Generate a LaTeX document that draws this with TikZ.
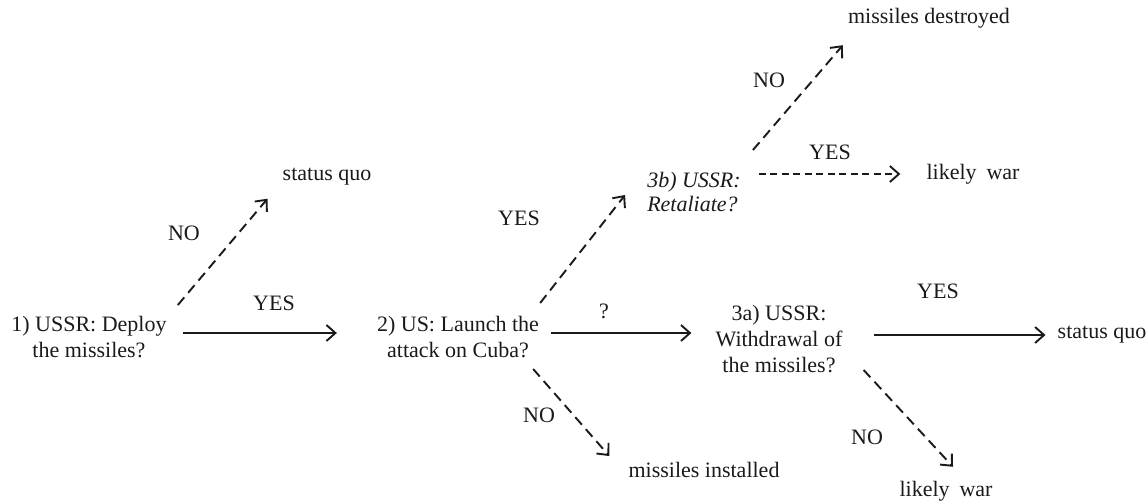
\documentclass[tikz,border=0pt]{standalone}
\usepackage{fontspec}
\setmainfont{Liberation Serif}
\usetikzlibrary{arrows.meta,calc}
\definecolor{ink}{HTML}{1A1A1A}
\begin{document}
\begin{tikzpicture}[x=1pt,y=-1pt,
  txt/.style={font=\fontsize{22}{26}\selectfont, text=ink, inner sep=0pt, align=center},
  lbl/.style={txt},
  arr/.style={draw=ink, line width=1.9pt,
    -{Straight Barb[length=9pt,width=16pt,line width=1.9pt]}},
  darr/.style={arr, dash pattern=on 10pt off 6pt},
  fdarr/.style={arr, dash pattern=on 7pt off 4.5pt}]
\useasboundingbox (0,0) rectangle (1148,503);

% decision nodes
\node[txt] (n1)  at (89,337)  {1) USSR: Deploy\\the missiles?};
\node[txt] (n2)  at (458,337) {2) US: Launch the\\attack on Cuba?};
\node[txt] (n3a) at (779,339) {3a) USSR:\\Withdrawal of\\the missiles?};
\node[txt, align=left, font=\fontsize{22}{24}\selectfont\itshape] (n3b) at (694,192) {3b) USSR:\\Retaliate?};

% outcomes
\node[txt] (sq1) at (327,177) {status quo};
\node[txt] (md)  at (929,18)  {missiles destroyed};
\node[txt] (lw1) at (973,174) {likely\hspace{0.45em}war};
\node[txt] (sq2) at (1102,335) {status quo};
\node[txt] (mi)  at (704,470) {missiles installed};
\node[txt] (lw2) at (946,491) {likely\hspace{0.45em}war};

% branches
\draw[darr] ($(n1.north east)+(11,-11)$) -- ($(sq1.south west)+(-15,13)$);
\draw[arr]  ($(n1.east)+(16,-4)$) -- ($(n2.west)+(-40,-4)$);
\draw[darr] ($(n2.north east)+(1,-13)$) -- ($(n3b.south west)+(-22,-17)$);
\draw[arr]  ($(n2.east)+(12,-4)$) -- ($(n3a.west)+(-24,-6)$);
\draw[darr] ($(n2.south east)+(-6,11)$) -- ($(mi.north west)+(-19,-6)$);
\draw[darr] ($(n3b.north east)+(12,-22)$) -- ($(md.south west)+(-5,17)$);
\draw[fdarr] ($(n3b.east)+(18,-18)$) -- ($(lw1.west)+(-26,0)$);
\draw[arr]  ($(n3a.east)+(31,-4)$) -- ($(sq2.west)+(-12,0)$);
\draw[darr] ($(n3a.south east)+(21,-3)$) -- ($(lw2.north)+(7,-14)$);

% branch labels
\node[lbl] (l1) at (184,233) {NO};
\node[lbl] (l2) at (274,303) {YES};
\node[lbl] (l3) at (519,218) {YES};
\node[lbl] (l4) at (604,311) {?};
\node[lbl] (l5) at (539,415) {NO};
\node[lbl] (l6) at (769,80)  {NO};
\node[lbl] (l7) at (830,152) {YES};
\node[lbl] (l8) at (938,291) {YES};
\node[lbl] (l9) at (867,437) {NO};
\end{tikzpicture}
\end{document}
